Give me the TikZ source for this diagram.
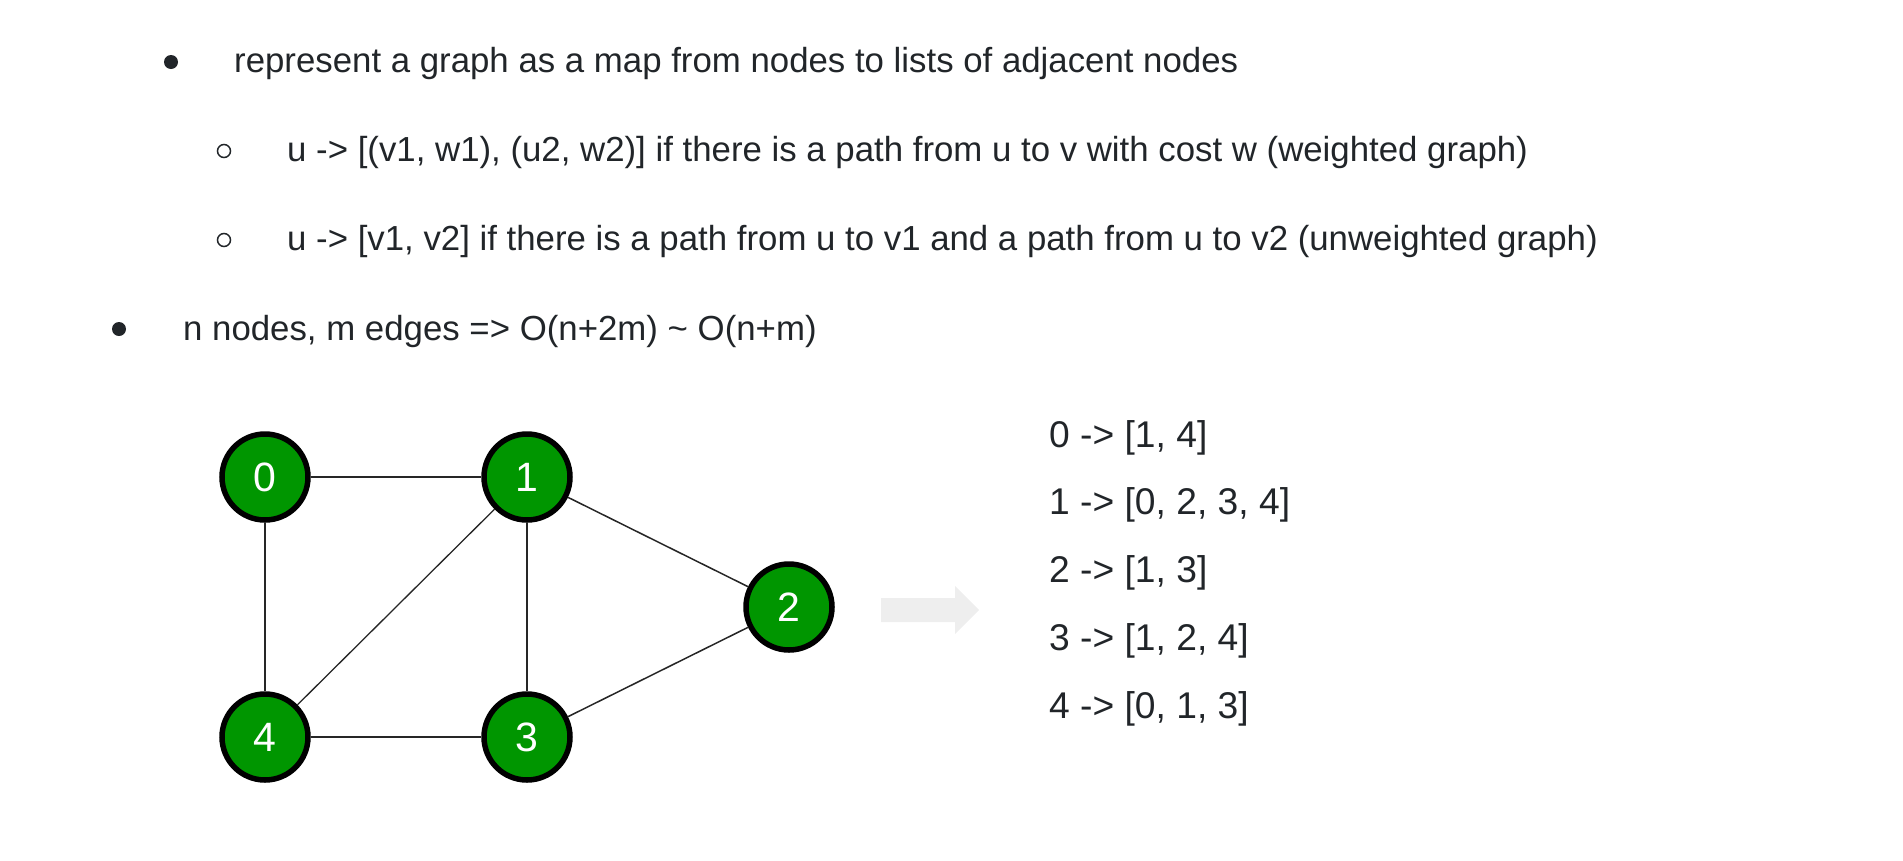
\documentclass[tikz,border=0pt]{standalone}
\usepackage{fontspec}
\setmainfont{Liberation Sans}
\usepackage{tikz}
\usetikzlibrary{positioning}

\definecolor{inkdark}{RGB}{33,37,41}
\definecolor{nodegreen}{RGB}{0,150,0}
\definecolor{arrowgrey}{RGB}{238,238,238}

\tikzset{
  txt/.style={anchor=base west, inner sep=0pt, text=inkdark, font=\fontsize{34.8}{42}\selectfont},
  adj/.style={anchor=base west, inner sep=0pt, text=inkdark, font=\fontsize{37.2}{44}\selectfont},
  vertex/.style={circle, draw=black, line width=5.5pt, fill=nodegreen, minimum size=86pt, inner sep=0pt,
    text=white, font=\fontsize{41}{41}\selectfont},
  edge/.style={line width=2pt, draw=black!85}
}

\begin{document}
\begin{tikzpicture}[x=1pt, y=-1pt]
  \useasboundingbox (0,0) rectangle (1903,860);

  % bullet points
  \fill[inkdark] (171,62) circle (7);
  \node[txt] (l1) at (234,72) {represent a graph as a map from nodes to lists of adjacent nodes};
  \draw[inkdark, line width=1.5pt] (224,151) circle (6.5);
  \node[txt] (l2) at (287,161) {u -> [(v1, w1), (u2, w2)] if there is a path from u to v with cost w (weighted graph)};
  \draw[inkdark, line width=1.5pt] (224,240) circle (6.5);
  \node[txt] (l3) at (287,250) {u -> [v1, v2] if there is a path from u to v1 and a path from u to v2 (unweighted graph)};
  \fill[inkdark] (119,329) circle (7);
  \node[txt] (l4) at (183,340) {n nodes, m edges => O(n+2m) \textasciitilde{} O(n+m)};

  % the graph
  \node[vertex] (n0) at (265,477) {0};
  \node[vertex] (n1) at (527,477) {1};
  \node[vertex] (n2) at (789,607) {2};
  \node[vertex] (n3) at (527,737) {3};
  \node[vertex] (n4) at (265,737) {4};
  \draw[edge] (n0) -- (n1);
  \draw[edge] (n0) -- (n4);
  \draw[edge, line width=1.3pt] (n4) -- (n1);
  \draw[edge] (n1) -- (n3);
  \draw[edge, line width=1.5pt] (n1) -- (n2);
  \draw[edge, line width=1.5pt] (n3) -- (n2);
  \draw[edge] (n4) -- (n3);

  % arrow
  \fill[arrowgrey] (881,598) -- (955,598) -- (955,586) -- (979,610) -- (955,634) -- (955,622) -- (881,622) -- cycle;

  % adjacency lists
  \node[adj] (a0) at (1049,447) {0 -> [1, 4]};
  \node[adj] (a1) at (1049,514) {1 -> [0, 2, 3, 4]};
  \node[adj] (a2) at (1049,582) {2 -> [1, 3]};
  \node[adj] (a3) at (1049,650) {3 -> [1, 2, 4]};
  \node[adj] (a4) at (1049,718) {4 -> [0, 1, 3]};
\end{tikzpicture}
\end{document}
